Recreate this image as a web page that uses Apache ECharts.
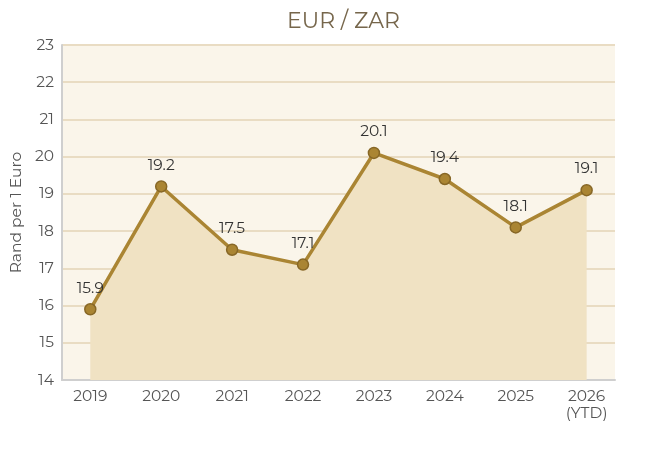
<!DOCTYPE html>
<html>
<head>
<meta charset="utf-8">
<script src="https://cdn.jsdelivr.net/npm/echarts@6/dist/echarts.min.js"></script>
<style>html,body{margin:0;padding:0;background:#fff;}#c{width:656px;height:450px;}</style>
</head>
<body>
<div id="c"></div>
<script>
const categories = ['2019','2020','2021','2022','2023','2024','2025','2026\n(YTD)'];
const values = [15.9, 19.2, 17.5, 17.1, 20.1, 19.4, 18.1, 19.1];
const yTicks = [14,15,16,17,18,19,20,21,22,23];

const font = 'Montserrat, "Open Sans", "Noto Sans", sans-serif';
const chart = echarts.init(document.getElementById('c'));
chart.setOption({
  animation: false,
  backgroundColor: '#ffffff',
  title: {
    text: 'EUR / ZAR', left: 282, top: 6,
    textStyle: { color: '#76664b', fontSize: 22, fontWeight: 'normal', fontFamily: font }
  },
  grid: { left: 60, right: 41, top: 45, bottom: 70, show: true, backgroundColor: '#faf5ea', borderWidth: 0 },
  xAxis: {
    type: 'value', min: -0.4, max: 7.4,
    axisLine: { show: true, onZero: false, lineStyle: { color: '#cfcfcf', width: 2 } },
    axisTick: { show: false },
    splitLine: { show: false },
    axisLabel: {
      customValues: categories.map((c, i) => i),
      formatter: v => categories[Math.round(v)],
      color: '#555', fontSize: 15.5, fontFamily: font, margin: 8, lineHeight: 17
    }
  },
  yAxis: {
    type: 'value', min: 14, max: 23, interval: 1,
    name: 'Rand per 1 Euro', nameLocation: 'middle', nameGap: 32, nameRotate: 90,
    nameTextStyle: { color: '#555', fontSize: 15.5, fontFamily: font },
    axisLine: { show: true, onZero: false, lineStyle: { color: '#cfcfcf', width: 2 } },
    axisTick: { show: false },
    splitLine: { show: true, lineStyle: { color: '#e9dcc3', width: 2 } },
    axisLabel: { color: '#555', fontSize: 15.5, fontFamily: font, margin: 8 }
  },
  series: [{
    type: 'line',
    data: values.map((v, i) => [i, v]),
    symbol: 'circle', symbolSize: 11,
    lineStyle: { color: '#aa8533', width: 3.5 },
    itemStyle: { color: '#aa8533', borderColor: '#876726', borderWidth: 1.5 },
    areaStyle: { color: '#f0e2c3', opacity: 1 },
    label: { show: true, position: 'top', distance: 7, color: '#333', fontSize: 15.5, fontFamily: font, formatter: p => p.value[1].toFixed(1) }
  }]
});
</script>
</body>
</html>
